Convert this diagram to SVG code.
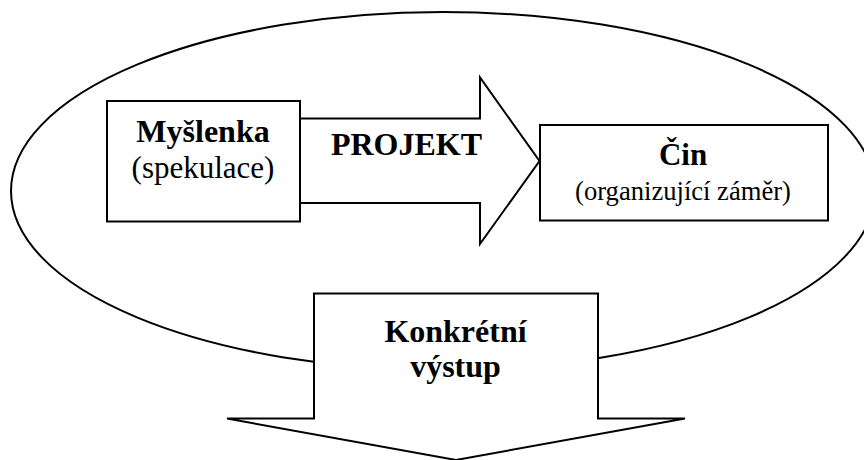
<svg xmlns="http://www.w3.org/2000/svg" width="864" height="460" viewBox="0 0 864 460">
<style>
.s{fill:#fff;stroke:#000;stroke-width:2;stroke-linejoin:miter}
.b{font-family:"Liberation Serif","Times New Roman",serif;font-weight:bold;font-size:32px;fill:#000;text-anchor:middle}
.r{font-family:"Liberation Serif","Times New Roman",serif;font-size:31px;fill:#000;text-anchor:middle}
</style>
<rect width="864" height="460" fill="#fff"/>
<g id="cycle">
<ellipse class="s" cx="443" cy="191" rx="432" ry="179"/>
</g>
<g id="connectors">
<path id="projekt-arrow" class="s" d="M300,118.5 H480 V77.5 L539.5,161 L480,244 V203 H300 Z"/>
<path id="output-arrow" class="s" d="M314,293.5 H598 V418.5 H685 L456,460 L227,418.5 H314 Z"/>
</g>
<g id="myslenka">
<rect class="s" x="107" y="101" width="193" height="120.5"/>
<text class="b" x="203" y="141.5">Myšlenka</text>
<text class="r" x="203" y="178">(spekulace)</text>
</g>
<g id="projekt-label">
<text class="b" x="406.5" y="155">PROJEKT</text>
</g>
<g id="cin">
<rect class="s" x="540" y="125" width="288" height="95.5"/>
<text class="b" x="683" y="165" style="font-size:31px">Čin</text>
<text class="r" x="683" y="200" style="font-size:26.6px">(organizující záměr)</text>
</g>
<g id="vystup">
<text class="b" x="455.5" y="342">Konkrétní</text>
<text class="b" x="455.5" y="377">výstup</text>
</g>
</svg>
